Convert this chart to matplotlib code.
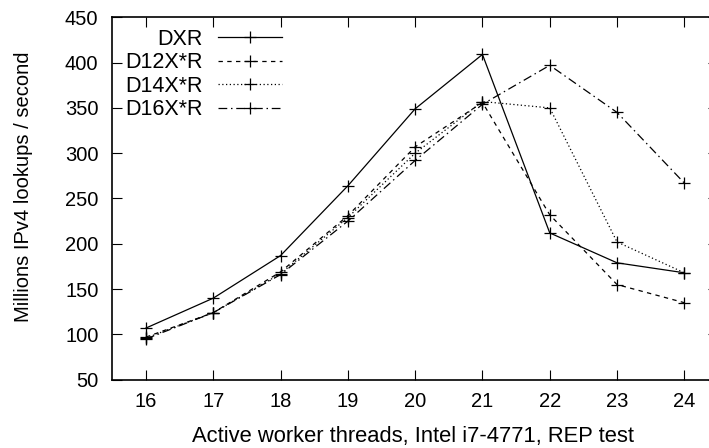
import matplotlib
matplotlib.use("Agg")
import matplotlib.pyplot as plt

plt.rcParams['font.family'] = ['Liberation Sans', 'DejaVu Sans']

# thread counts and lookup rates (millions / s)
threads = [16, 17, 18, 19, 20, 21, 22, 23, 24]
dxr   = [107, 140, 187, 264, 349, 409, 212, 179, 168]
d12xr = [97, 124, 169, 231, 307, 356, 232, 155, 135]
d14xr = [96, 124, 167, 229, 300, 357, 350, 202, 168]
d16xr = [95, 124, 166, 225, 292, 354, 397, 345, 267]

fig = plt.figure(figsize=(7.09, 4.48), dpi=100)
ax = fig.add_axes([112.3/709, (448-379.7)/448, (718-112.3)/709, (379.7-17.3)/448])

kw = dict(color='black', lw=0.9, marker='+', markersize=9, markeredgewidth=0.9)
ax.plot(threads, dxr, ls='-', label='DXR', **kw)
ax.plot(threads, d12xr, ls=(0, (3.5, 3.5)), label='D12X*R', **kw)
ax.plot(threads, d14xr, ls=(0, (1, 2)), label='D14X*R', **kw)
ax.plot(threads, d16xr, ls=(0, (7, 3, 1.2, 3)), label='D16X*R', **kw)

ax.set_xlim(15.5, 24.5)
ax.set_ylim(50, 450)
ax.set_xticks(threads)
ax.set_yticks(range(50, 451, 50))
ax.tick_params(direction='in', length=7, width=0.8, labelsize=14.5,
               top=True, right=True)
ax.tick_params(axis='y', pad=10)
ax.tick_params(axis='x', pad=9)
for s in ax.spines.values():
    s.set_linewidth(1.2)

ax.set_xlabel('Active worker threads, Intel i7-4771, REP test', fontsize=15.8, va='baseline')
ax.xaxis.set_label_coords(0.496, -0.171)
ax.set_ylabel('Millions IPv4 lookups / second', fontsize=14.5, va='center')
ax.yaxis.set_label_coords(-0.147, 0.533)

ax.legend(loc='upper left', bbox_to_anchor=(125/709, 0.936), bbox_transform=fig.transFigure,
          frameon=False, markerfirst=False, fontsize=15.5, borderpad=0, borderaxespad=0,
          labelspacing=0.12, handletextpad=0.7, handlelength=3.0, numpoints=1)

fig.savefig('out.png', dpi=100)
